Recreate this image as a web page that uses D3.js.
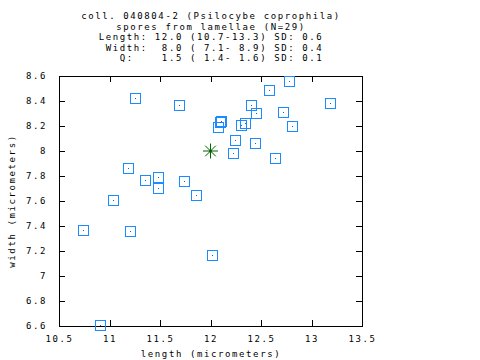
<!DOCTYPE html>
<meta charset="utf-8">
<style>
body { margin: 0; background: #fff; }
text {
  font-family: "DejaVu Sans Mono", monospace;
  font-size: 9px;
  letter-spacing: 1.6px;
  white-space: pre;
  fill: #000;
}
</style>
<svg width="480" height="360"></svg>
<script src="https://cdn.jsdelivr.net/npm/d3@7"></script>
<script>

var titleLines = [
  "coll. 040804-2 (Psilocybe coprophila)",
  "spores from lamellae (N=29)",
  "Length: 12.0 (10.7-13.3) SD: 0.6",
  " Width:  8.0 ( 7.1- 8.9) SD: 0.4",
  "   Q:    1.5 ( 1.4- 1.6) SD: 0.1"
];

var lengths = [11.25, 11.69, 11.18, 11.35, 11.48, 11.48, 11.74, 11.86, 11.03, 12.07,
               12.10, 12.09, 12.78, 12.58, 13.18, 12.40, 12.45, 12.72, 12.34, 12.30,
               12.81, 12.24, 12.44, 12.22, 12.64, 10.74, 11.20, 12.01, 10.91];
var widths  = [8.42, 8.37, 7.86, 7.77, 7.79, 7.70, 7.76, 7.65, 7.61, 8.19,
               8.24, 8.23, 8.56, 8.49, 8.38, 8.37, 8.30, 8.31, 8.22, 8.21,
               8.20, 8.09, 8.06, 7.98, 7.94, 7.37, 7.36, 7.17, 6.61];

var meanLength = 12.0, meanWidth = 8.0;

var xTicks = [10.5, 11, 11.5, 12, 12.5, 13, 13.5];
var yTicks = [6.6, 6.8, 7, 7.2, 7.4, 7.6, 7.8, 8, 8.2, 8.4, 8.6];

var svg = d3.select("svg"),
    mLeft = 59, mRight = 362, mTop = 76, mBottom = 326;

var x = d3.scaleLinear().domain([10.5, 13.5]).range([mLeft, mRight]);
var y = d3.scaleLinear().domain([6.6, 8.6]).range([mBottom, mTop]);

// title
svg.append("g").selectAll("text").data(titleLines).enter().append("text")
    .attr("x", 211)
    .attr("y", function(d, i) { return 19 + i * 10.6; })
    .attr("text-anchor", "middle")
    .text(function(d) { return d; });

// frame + inward ticks on all sides
var axes = svg.append("g").attr("shape-rendering", "crispEdges");

axes.append("g").attr("transform", "translate(0," + mBottom + ")")
    .call(d3.axisBottom(x).tickValues(xTicks).tickSizeInner(-6).tickSizeOuter(0).tickPadding(10).tickFormat(d3.format("")));
axes.append("g").attr("transform", "translate(0," + mTop + ")")
    .call(d3.axisTop(x).tickValues(xTicks).tickSizeInner(-6).tickSizeOuter(0).tickFormat(""));
axes.append("g").attr("transform", "translate(" + mLeft + ",0)")
    .call(d3.axisLeft(y).tickValues(yTicks).tickSizeInner(-6).tickSizeOuter(0).tickPadding(12).tickFormat(d3.format("")));
axes.append("g").attr("transform", "translate(" + mRight + ",0)")
    .call(d3.axisRight(y).tickValues(yTicks).tickSizeInner(-6).tickSizeOuter(0).tickFormat(""));

axes.selectAll(".domain").attr("stroke", "#000");
axes.selectAll(".tick line").attr("stroke", "#000");
axes.selectAll(".tick text").attr("font-family", null).attr("font-size", null);

// axis labels
svg.append("text")
    .attr("x", 211).attr("y", 357)
    .attr("text-anchor", "middle")
    .text("length (micrometers)");
svg.append("text")
    .attr("transform", "translate(15," + ((mTop + mBottom) / 2) + ") rotate(-90)")
    .attr("text-anchor", "middle")
    .text("width (micrometers)");

// spore points
var pts = svg.append("g").selectAll("g").data(lengths).enter().append("g")
    .attr("transform", function(d, i) {
      return "translate(" + Math.round(x(d)) + "," + Math.round(y(widths[i])) + ")";
    });
pts.append("rect")
    .attr("x", -4.5).attr("y", -4.5).attr("width", 10).attr("height", 10)
    .attr("fill", "none").attr("stroke", "#1a8cff").attr("stroke-width", 1);
pts.append("rect")
    .attr("x", 0).attr("y", 0).attr("width", 1).attr("height", 1)
    .attr("fill", "#0a5fc0");

// mean marker
var star = svg.append("g")
    .attr("transform", "translate(" + x(meanLength) + "," + y(meanWidth) + ")")
    .attr("stroke", "#006400");
[0, 45, 90, 135].forEach(function(a) {
  var r = 7.5, rad = a * Math.PI / 180;
  star.append("line")
      .attr("x1", -r * Math.cos(rad)).attr("y1", -r * Math.sin(rad))
      .attr("x2", r * Math.cos(rad)).attr("y2", r * Math.sin(rad));
});
star.append("circle").attr("r", 1.5).attr("fill", "#006400").attr("stroke", "none");

</script>
